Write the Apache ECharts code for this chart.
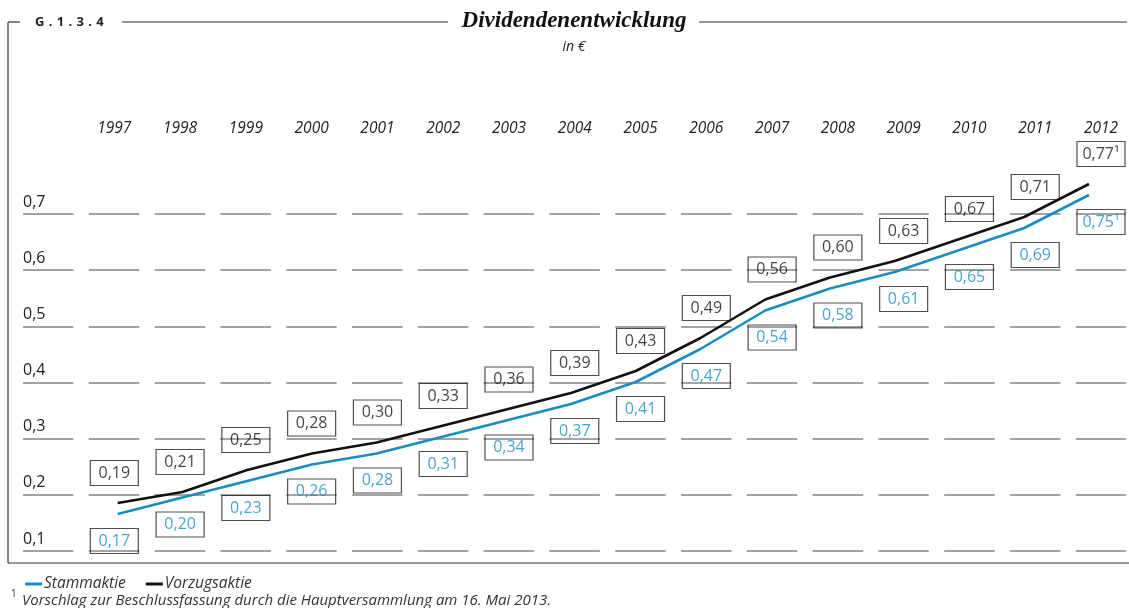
<!DOCTYPE html>
<html>
<head>
<meta charset="utf-8">
<script src="https://cdn.jsdelivr.net/npm/echarts@6/dist/echarts.min.js"></script>
<style>
html,body{margin:0;padding:0;background:#fff;}
#chart{width:1129px;height:608px;}
</style>
</head>
<body>
<div id="chart"></div>
<script>
// ---- data ----
const years = ['1997','1998','1999','2000','2001','2002','2003','2004','2005','2006','2007','2008','2009','2010','2011','2012'];
const stammaktie = [0.17,0.20,0.23,0.26,0.28,0.31,0.34,0.37,0.41,0.47,0.54,0.58,0.61,0.65,0.69,0.75];
const vorzugsaktie = [0.19,0.21,0.25,0.28,0.30,0.33,0.36,0.39,0.43,0.49,0.56,0.60,0.63,0.67,0.71,0.77];
const footnoteMarks = ['','','','','','','','','','','','','','','','\u00B9'];
const yTicks = [0.1,0.2,0.3,0.4,0.5,0.6,0.7];
const seriesNames = ['Stammaktie','Vorzugsaktie'];

// ---- style ----
const BLUE = '#1b8cc0';
const BLACK = '#111111';
const SANS = '"Open Sans", "Noto Sans", sans-serif';
const fmt = v => v.toFixed(2).replace('.', ',');

const chart = echarts.init(document.getElementById('chart'), null, {renderer:'canvas'});

function boxLabel(color, pos, dist){
  return {
    show: true,
    position: pos,
    distance: dist,
    formatter: p => fmt(p.value) + footnoteMarks[p.dataIndex],
    color: color,
    fontFamily: SANS,
    fontSize: 16,
    width: 48,
    height: 25,
    lineHeight: 25,
    align: 'center',
    verticalAlign: 'middle',
    borderColor: '#222',
    borderWidth: 1.2,
    padding: 0
  };
}

const option = {
  animation: false,
  backgroundColor: '#fff',
  grid: [
    // gridlines + y labels
    {left: 23, right: 3, top: 214, bottom: 57},
    // year axis + value boxes
    {left: 114.3, right: 28, top: 57.5, bottom: 0.5},
    // lines
    {left: 117.7, right: 40, top: 57.5, bottom: 0.5}
  ],
  xAxis: [
    {gridIndex: 0, type: 'value', min: 0, max: 1, show: false},
    {gridIndex: 1, type: 'category', data: years, boundaryGap: false, position: 'top',
     offset: -79, axisLine: {show: false}, axisTick: {show: false}, splitLine: {show: false},
     axisLabel: {show: true, margin: 0, interval: 0, fontFamily: SANS, fontStyle: 'italic', fontSize: 15.5, color: '#222'}},
    {gridIndex: 2, type: 'category', data: years, boundaryGap: false, show: false}
  ],
  yAxis: [
    {gridIndex: 0, type: 'value', min: yTicks[0], max: yTicks[yTicks.length-1], interval: 0.1,
     axisLine: {show: false}, axisTick: {show: false},
     splitLine: {show: true, showMinLine: true, showMaxLine: true,
       lineStyle: {color: '#858585', width: 1.6, type: [50.5, 15.3]}},
     axisLabel: {show: true, inside: true, margin: 0, align: 'left', verticalAlign: 'bottom',
       padding: [0,0,4,0], fontFamily: SANS, fontSize: 16, color: '#222',
       formatter: v => v.toFixed(1).replace('.', ',')}},
    {gridIndex: 1, type: 'value', min: 0, max: 1, show: false},
    {gridIndex: 2, type: 'value', min: 0, max: 1, show: false}
  ],
  legend: {
    data: seriesNames,
    left: 20, top: 571,
    icon: 'rect', itemWidth: 17, itemHeight: 3, itemGap: 20,
    selectedMode: false,
    textStyle: {fontFamily: SANS, fontStyle: 'italic', fontSize: 15.5, color: '#333', padding: [0,0,0,-3]}
  },
  series: [
    {name: seriesNames[0], type: 'line', xAxisIndex: 2, yAxisIndex: 2, data: stammaktie,
     showSymbol: false, clip: false, color: BLUE, lineStyle: {color: BLUE, width: 2.6}, z: 3, silent: true},
    {name: seriesNames[1], type: 'line', xAxisIndex: 2, yAxisIndex: 2, data: vorzugsaktie,
     showSymbol: false, clip: false, color: BLACK, lineStyle: {color: BLACK, width: 2.6}, z: 3, silent: true},
    {name: 'StammLabels', type: 'scatter', xAxisIndex: 1, yAxisIndex: 1, data: stammaktie,
     symbolSize: 1, itemStyle: {color: 'rgba(0,0,0,0)'}, silent: true, clip: false,
     label: boxLabel(BLUE, 'bottom', 26.5)},
    {name: 'VorzugLabels', type: 'scatter', xAxisIndex: 1, yAxisIndex: 1, data: vorzugsaktie,
     symbolSize: 1, itemStyle: {color: 'rgba(0,0,0,0)'}, silent: true, clip: false,
     label: boxLabel('#111', 'top', 29.5)}
  ],
  graphic: [
    {type: 'line', shape: {x1: 8, y1: 22, x2: 20, y2: 22}, style: {stroke: '#333', lineWidth: 1.2}},
    {type: 'text', x: 35, y: 22, style: {text: 'G\u2009\u2009.\u2009\u20091\u2009\u2009.\u2009\u20093\u2009\u2009.\u2009\u20094', font: 'bold 13px ' + SANS, fill: '#222', textVerticalAlign: 'middle'}},
    {type: 'line', shape: {x1: 122, y1: 22, x2: 448, y2: 22}, style: {stroke: '#333', lineWidth: 1.2}},
    {type: 'text', x: 574, y: 21, style: {text: 'Dividendenentwicklung', font: 'italic bold 23px "Liberation Serif", serif', fill: '#111', textAlign: 'center', textVerticalAlign: 'middle'}},
    {type: 'line', shape: {x1: 699, y1: 22, x2: 1127, y2: 22}, style: {stroke: '#333', lineWidth: 1.2}},
    {type: 'text', x: 574, y: 47, style: {text: 'in \u20AC', font: 'italic 14px ' + SANS, fill: '#222', textAlign: 'center', textVerticalAlign: 'middle'}},
    {type: 'line', shape: {x1: 8, y1: 22, x2: 8, y2: 563}, style: {stroke: '#333', lineWidth: 1.2}},
    {type: 'line', shape: {x1: 8, y1: 563, x2: 1129, y2: 563}, style: {stroke: '#333', lineWidth: 1.2}},
    {type: 'text', x: 11, y: 594, style: {text: '1', font: '10px ' + SANS, fill: '#333', textVerticalAlign: 'middle'}},
    {type: 'text', x: 22, y: 601, style: {text: 'Vorschlag zur Beschlussfassung durch die Hauptversammlung am 16. Mai 2013.', font: 'italic 15px ' + SANS, fill: '#333', textVerticalAlign: 'middle'}}
  ]
};
chart.setOption(option);
</script>
</body>
</html>
